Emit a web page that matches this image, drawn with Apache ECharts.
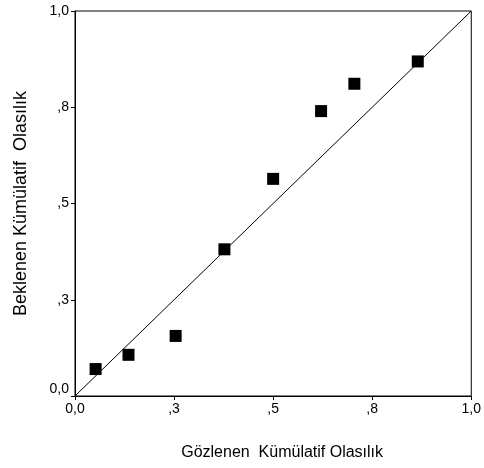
<!DOCTYPE html>
<html>
<head>
<meta charset="utf-8">
<script src="https://cdn.jsdelivr.net/npm/echarts@6/dist/echarts.min.js"></script>
<style>
  html, body { margin: 0; padding: 0; background: #fff; }
  #chart { width: 484px; height: 468px; }
</style>
</head>
<body>
<div id="chart"></div>
<script>
// gözlenen / beklenen kümülatif olasılık (P-P grafiği)
const observed = [0.052, 0.135, 0.254, 0.377, 0.5, 0.621, 0.705, 0.865]
const expected = [0.070, 0.107, 0.156, 0.381, 0.564, 0.740, 0.811, 0.869]
const tickValues = [0, 0.25, 0.5, 0.75, 1]
const tickLabels = ['0,0', ',3', ',5', ',8', '1,0']
const diagonal = [[0, 0], [1, 1]]

const font = 'Liberation Sans, Arial, sans-serif'

function fmt(v) {
  const i = tickValues.findIndex(t => Math.abs(t - v) < 1e-6)
  return i >= 0 ? tickLabels[i] : ''
}

const axisCommon = {
  type: 'value',
  min: 0,
  max: 1,
  interval: 0.25,
  nameLocation: 'middle',
  axisLine: { show: true, lineStyle: { color: '#000', width: 1 } },
  axisTick: { show: true, length: 4, lineStyle: { color: '#000' } },
  axisLabel: { color: '#000', fontSize: 14, fontFamily: font, formatter: fmt, margin: 6 },
  splitLine: { show: false },
}

const option = {
  animation: false,
  grid: {
    left: 75,
    right: 8,
    top: 11,
    bottom: 72,
    show: true,
    borderColor: '#000',
    borderWidth: 1,
  },
  xAxis: Object.assign({}, axisCommon, {
    name: 'Gözlenen  Kümülatif Olasılık',
    nameGap: 49,
    nameTextStyle: { color: '#000', fontSize: 16, fontFamily: font, padding: [0, 0, 0, 18] },
  }),
  yAxis: Object.assign({}, axisCommon, {
    name: 'Beklenen Kümülatif  Olasılık',
    nameGap: 45,
    nameTextStyle: { color: '#000', fontSize: 18, fontFamily: font },
    axisLabel: Object.assign({}, axisCommon.axisLabel, { verticalAlignMinLabel: 'bottom' }),
  }),
  series: [
    {
      type: 'line',
      data: diagonal,
      symbol: 'none',
      lineStyle: { color: '#000', width: 1 },
      silent: true,
    },
    {
      type: 'scatter',
      data: observed.map((x, i) => [x, expected[i]]),
      symbol: 'rect',
      symbolSize: 12,
      itemStyle: { color: '#000', opacity: 1 },
    },
  ],
}

const myChart = echarts.init(document.getElementById('chart'))
myChart.setOption(option)
</script>
</body>
</html>
